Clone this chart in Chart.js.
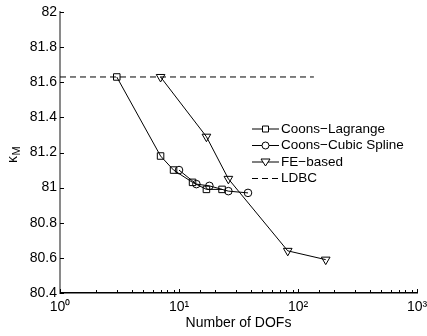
<!DOCTYPE html>
<html>
<head>
<meta charset="utf-8">
<script src="https://cdn.jsdelivr.net/npm/chart.js@4"></script>
<style>
  html, body { margin: 0; padding: 0; background: #fff; }
  #wrap { width: 427px; height: 336px; }
</style>
</head>
<body>
<div id="wrap"><canvas id="chart1" width="427" height="336"></canvas></div>
<script>
  // values
  var lagrangeDofs = [3, 7, 9, 13, 17, 23];
  var lagrangeKappa = [81.63, 81.18, 81.10, 81.03, 80.99, 80.99];
  var splineDofs = [10, 14, 18, 26, 38];
  var splineKappa = [81.10, 81.02, 81.01, 80.98, 80.97];
  var feDofs = [7, 17, 26, 82, 171];
  var feKappa = [81.63, 81.29, 81.05, 80.64, 80.59];
  var ldbcDofs = [1, 136];
  var ldbcKappa = [81.63, 81.63];
  var seriesNames = ['Coons\u2212Lagrange', 'Coons\u2212Cubic Spline', 'FE\u2212based', 'LDBC'];
  var xTickLabels = { 1: '10\u2070', 10: '10\u00b9', 100: '10\u00b2', 1000: '10\u00b3' };

  var FONT = '"Liberation Sans", Arial, Helvetica, sans-serif';

  function toPoints(xs, ys) {
    return xs.map(function (x, i) { return { x: x, y: ys[i] }; });
  }

  // MATLAB style inward ticks, y title with subscript, and a plain legend
  var decor = {
    id: 'decor',
    afterDraw: function (chart) {
      var ctx = chart.ctx;
      var xs = chart.scales.x, ys = chart.scales.y;
      var area = chart.chartArea;
      ctx.save();
      ctx.strokeStyle = '#000';
      ctx.lineWidth = 1;
      ctx.beginPath();
      xs.ticks.forEach(function (t) {
        var px = Math.round(xs.getPixelForValue(t.value)) + 0.5;
        var major = Math.abs(Math.log10(t.value) % 1) < 1e-9;
        ctx.moveTo(px, area.bottom);
        ctx.lineTo(px, area.bottom - (major ? 4 : 3));
      });
      ys.ticks.forEach(function (t) {
        var py = Math.round(ys.getPixelForValue(t.value)) + 0.5;
        ctx.moveTo(area.left, py);
        ctx.lineTo(area.left + 4, py);
      });
      ctx.stroke();

      // y title: kappa with subscript M
      ctx.fillStyle = '#000';
      ctx.translate(17, 163);
      ctx.rotate(-Math.PI / 2);
      ctx.textBaseline = 'alphabetic';
      ctx.textAlign = 'left';
      ctx.font = '14px ' + FONT;
      ctx.fillText('\u03ba', 0, 0);
      var kw = ctx.measureText('\u03ba').width;
      ctx.font = '11px ' + FONT;
      ctx.fillText('M', kw + 0.5, 2.5);
      ctx.restore();

      // legend
      ctx.save();
      var rowY = [128.5, 145, 161.5, 178];
      ctx.font = '13.5px ' + FONT;
      ctx.textBaseline = 'middle';
      ctx.fillStyle = '#000';
      chart.data.datasets.forEach(function (ds, i) {
        var y = rowY[i] + 0.5;
        ctx.strokeStyle = '#000';
        ctx.lineWidth = 1;
        ctx.setLineDash(ds.borderDash || []);
        ctx.beginPath();
        ctx.moveTo(252, y);
        ctx.lineTo(279, y);
        ctx.stroke();
        ctx.setLineDash([]);
        var cx = 265.5;
        if (ds.pointRadius > 0) {
          ctx.fillStyle = '#fff';
          ctx.beginPath();
          if (ds.pointStyle === 'rect') {
            ctx.rect(cx - 3, y - 3, 6, 6);
          } else if (ds.pointStyle === 'circle') {
            ctx.arc(cx, y, 3.5, 0, Math.PI * 2);
          } else {
            ctx.moveTo(cx - 4.5, y - 3);
            ctx.lineTo(cx + 4.5, y - 3);
            ctx.lineTo(cx, y + 4);
            ctx.closePath();
          }
          ctx.fill();
          ctx.stroke();
          ctx.fillStyle = '#000';
        }
        ctx.fillText(ds.label, 281, y);
      });
      ctx.restore();
    }
  };

  var ctx1 = document.getElementById('chart1').getContext('2d');
  var chart1 = new Chart(ctx1, {
    type: 'scatter',
    data: {
      datasets: [{
        label: seriesNames[0],
        data: toPoints(lagrangeDofs, lagrangeKappa),
        showLine: true,
        borderColor: '#000',
        borderWidth: 1,
        pointStyle: 'rect',
        pointRadius: 4.6,
        pointBorderColor: '#000',
        pointBackgroundColor: 'rgba(0,0,0,0)',
        pointBorderWidth: 1
      }, {
        label: seriesNames[1],
        data: toPoints(splineDofs, splineKappa),
        showLine: true,
        borderColor: '#000',
        borderWidth: 1,
        pointStyle: 'circle',
        pointRadius: 3.8,
        pointBorderColor: '#000',
        pointBackgroundColor: 'rgba(0,0,0,0)',
        pointBorderWidth: 1
      }, {
        label: seriesNames[2],
        data: toPoints(feDofs, feKappa),
        showLine: true,
        borderColor: '#000',
        borderWidth: 1,
        pointStyle: 'triangle',
        rotation: 180,
        pointRotation: 180,
        pointRadius: 5,
        pointBorderColor: '#000',
        pointBackgroundColor: 'rgba(0,0,0,0)',
        pointBorderWidth: 1
      }, {
        label: seriesNames[3],
        data: toPoints(ldbcDofs, ldbcKappa),
        showLine: true,
        borderColor: '#000',
        borderWidth: 1,
        borderDash: [6, 4],
        pointRadius: 0
      }]
    },
    options: {
      responsive: false,
      animation: false,
      devicePixelRatio: 1,
      layout: { padding: { top: 12, right: 10, left: 0, bottom: 0 } },
      plugins: {
        legend: { display: false },
        tooltip: { enabled: false }
      },
      scales: {
        x: {
          type: 'logarithmic',
          min: 1,
          max: 1000,
          afterFit: function (s) { s.height = 43; s.paddingLeft = 0; s.paddingRight = 0; },
          grid: { display: false, drawTicks: false },
          border: { display: true, color: '#000', width: 1.5 },
          ticks: {
            autoSkip: false,
            maxRotation: 0,
            padding: 6,
            color: '#000',
            font: { family: FONT, size: 14 },
            callback: function (v) { return xTickLabels[v] || ''; }
          },
          title: {
            display: true,
            text: 'Number of DOFs',
            color: '#000',
            font: { family: FONT, size: 14 },
            padding: { top: 0, bottom: 4 }
          }
        },
        y: {
          min: 80.4,
          max: 82,
          afterFit: function (s) { s.width = 60; s.paddingTop = 0; s.paddingBottom = 0; },
          grid: { display: false, drawTicks: false },
          border: { display: true, color: '#8a8a8a', width: 2 },
          ticks: {
            stepSize: 0.2,
            padding: 3,
            color: '#000',
            font: { family: FONT, size: 14 },
            callback: function (v) { return String(Number(v.toFixed(1))); }
          }
        }
      }
    },
    plugins: [decor]
  });
</script>
</body>
</html>
